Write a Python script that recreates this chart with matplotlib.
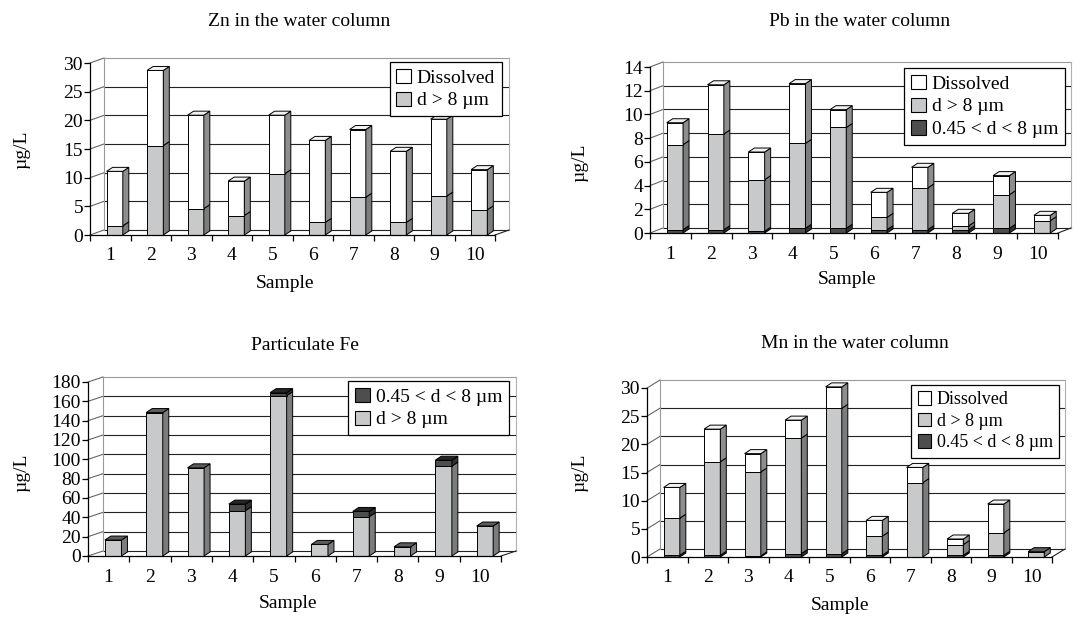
import numpy as np
import matplotlib.pyplot as plt
from matplotlib.patches import Polygon, Patch

plt.rcParams['font.family'] = ['Liberation Serif', 'DejaVu Serif']

samples = [str(i) for i in range(1, 11)]

# Zn in the water column (ug/L)
zn_d8 = [1.6, 15.6, 4.6, 3.4, 10.7, 2.2, 6.6, 2.2, 6.8, 4.4]
zn_dissolved = [9.5, 13.1, 16.3, 6.0, 10.2, 14.3, 11.8, 12.4, 13.4, 7.0]

# Pb in the water column
pb_fine = [0.28, 0.28, 0.15, 0.4, 0.4, 0.28, 0.28, 0.28, 0.4, 0.0]
pb_d8 = [7.17, 8.07, 4.35, 7.16, 8.5, 1.04, 3.52, 0.32, 2.83, 1.04]
pb_dissolved = [1.85, 4.15, 2.33, 5.04, 1.5, 2.11, 1.74, 1.06, 1.61, 0.45]

# Particulate Fe
fe_d8 = [16.5, 148.4, 91.2, 46.8, 165.9, 12.0, 40.6, 9.5, 93.0, 31.0]
fe_fine = [0.0, 0.0, 0.0, 6.9, 3.1, 0.0, 5.5, 0.0, 6.1, 0.0]

# Mn in the water column
mn_fine = [0.3, 0.3, 0.2, 0.6, 0.6, 0.3, 0.0, 0.3, 0.3, 0.0]
mn_d8 = [6.6, 16.6, 14.9, 20.5, 25.8, 3.4, 13.2, 1.9, 4.0, 0.95]
mn_dissolved = [5.45, 5.8, 3.25, 3.2, 3.8, 2.8, 2.7, 1.0, 5.1, 0.0]

lab_diss = 'Dissolved'
lab_d8 = 'd > 8 µm'
lab_fine = '0.45 < d < 8 µm'

# front, side, top colours
WHITE = ('#ffffff', '#8e8e8e', '#f2f2f2')
LIGHT = ('#c8c9cb', '#7c7c7c', '#5c5c5c')
DARK = ('#4e4e4e', '#2f2f2f', '#262626')

W, H = 1089, 617
fig = plt.figure(figsize=(W / 100, H / 100), dpi=100)


def fx(px):
    return px / W


def fy(py):
    return 1 - py / H


def panel(box, depth, ymax, ystep, stack, legend_order, title, title_pos,
          ylab_pos, xlab_pos, leg_corner, leg_fs=14):
    x0, x1, ybot, ytop = box
    ax = fig.add_axes([fx(x0), fy(ybot), (x1 - x0) / W, (ybot - ytop) / H])
    ax.set_xlim(0, 10)
    ax.set_ylim(0, ymax)
    sx = 10 / (x1 - x0)
    sy = ymax / (ybot - ytop)
    ddx, ddy = depth[0] * sx, depth[1] * sy
    bdx, bdy = 6 * sx, 4 * sy

    # walls and gridlines
    levels = np.arange(0, ymax + ystep / 2, ystep)
    for v in levels:
        c = '#9a9a9a' if v == levels[-1] else '#222222'
        ax.plot([ddx, 10 + ddx], [v + ddy] * 2, color=c, lw=0.8, clip_on=False, zorder=1)
        ax.plot([0, ddx], [v, v + ddy], color='#666666', lw=0.8, clip_on=False, zorder=1)
    ax.plot([ddx, ddx], [ddy, ymax + ddy], color='#9a9a9a', lw=0.8, clip_on=False, zorder=1)
    ax.plot([10 + ddx] * 2, [ddy, ymax + ddy], color='#b0b0b0', lw=0.8, clip_on=False, zorder=1)
    ax.plot([10, 10 + ddx], [0, ddy], color='#222222', lw=0.8, clip_on=False, zorder=1)

    # stacked 3d-looking bars
    xs = np.arange(10) + 0.41
    bw = 0.40
    bottom = np.zeros(10)
    tops = [None] * 10
    for vals, cols in stack:
        vals = np.array(vals)
        ax.bar(xs, vals, bw, bottom=bottom, align='edge', color=cols[0],
               edgecolor='black', lw=0.7, zorder=3, clip_on=False)
        for i in range(10):
            if vals[i] <= 0:
                continue
            xr = xs[i] + bw
            b, t = bottom[i], bottom[i] + vals[i]
            ax.add_patch(Polygon([(xr, b), (xr + bdx, b + bdy), (xr + bdx, t + bdy), (xr, t)],
                                 closed=True, fc=cols[1], ec='black', lw=0.7, zorder=3, clip_on=False))
            tops[i] = cols[2]
        bottom = bottom + vals
    for i in range(10):
        if tops[i] is None:
            continue
        xl, xr, t = xs[i], xs[i] + bw, bottom[i]
        ax.add_patch(Polygon([(xl, t), (xl + bdx, t + bdy), (xr + bdx, t + bdy), (xr, t)],
                             closed=True, fc=tops[i], ec='black', lw=0.7, zorder=4, clip_on=False))

    # axes
    for k in ('top', 'right'):
        ax.spines[k].set_visible(False)
    for k in ('left', 'bottom'):
        ax.spines[k].set_linewidth(0.9)
        ax.spines[k].set_zorder(5)
    ax.set_yticks(levels)
    ax.set_yticklabels([f'{v:g}' for v in levels], fontsize=14)
    ax.tick_params(axis='y', length=4, width=0.9, pad=1)
    ax.set_xticks(np.arange(11))
    ax.set_xticklabels([])
    ax.set_xticks(np.arange(10) + 0.5, minor=True)
    ax.set_xticklabels(samples, minor=True, fontsize=14)
    ax.tick_params(axis='x', which='major', length=4, width=0.9)
    ax.tick_params(axis='x', which='minor', length=0, pad=9)
    ax.patch.set_alpha(0)

    fig.text(fx(title_pos[0]), fy(title_pos[1]), title, ha='center', va='center', fontsize=14)
    fig.text(fx(ylab_pos[0]), fy(ylab_pos[1]), 'µg/L', ha='center', va='center',
             rotation=90, fontsize=14)
    fig.text(fx(xlab_pos[0]), fy(xlab_pos[1]), 'Sample', ha='center', va='center', fontsize=14)

    handles = [Patch(fc=c[0], ec='black', lw=0.8, label=l) for l, c in legend_order]
    leg = fig.legend(handles=handles, loc='upper right',
                     bbox_to_anchor=(fx(leg_corner[0]), fy(leg_corner[1])),
                     fontsize=leg_fs, frameon=True, fancybox=False, framealpha=1,
                     edgecolor='black', handlelength=0.75, handleheight=0.75,
                     handletextpad=0.3, labelspacing=0.25, borderpad=0.35,
                     borderaxespad=0)
    leg.get_frame().set_linewidth(0.9)
    return ax


panel((90, 495, 235, 63), (14, 5), 30, 5,
      [(zn_d8, LIGHT), (zn_dissolved, WHITE)],
      [(lab_diss, WHITE), (lab_d8, LIGHT)],
      'Zn in the water column', (299, 21), (22, 150), (285, 283), (502, 62))

panel((650, 1058, 233, 67), (13, 5), 14, 2,
      [(pb_fine, DARK), (pb_d8, LIGHT), (pb_dissolved, WHITE)],
      [(lab_diss, WHITE), (lab_d8, LIGHT), (lab_fine, DARK)],
      'Pb in the water column', (860, 21), (580, 163), (847, 280), (1065, 68))

panel((88, 501, 556, 382), (15, 5), 180, 20,
      [(fe_d8, LIGHT), (fe_fine, DARK)],
      [(lab_fine, DARK), (lab_d8, LIGHT)],
      'Particulate Fe', (305, 345), (22, 473), (288, 603), (509, 381))

panel((647, 1052, 557, 388), (13, 8), 30, 5,
      [(mn_fine, DARK), (mn_d8, LIGHT), (mn_dissolved, WHITE)],
      [(lab_diss, WHITE), (lab_d8, LIGHT), (lab_fine, DARK)],
      'Mn in the water column', (855, 343), (580, 473), (840, 605), (1059, 385), leg_fs=13)

fig.savefig('out.png', dpi=100)
